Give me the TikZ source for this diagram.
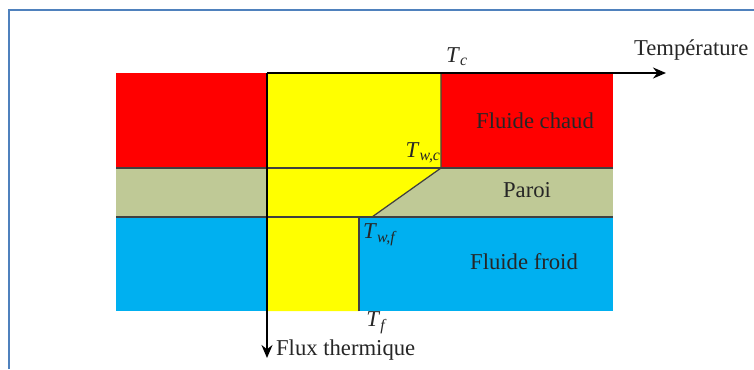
\documentclass[tikz,border=0pt]{standalone}
\usepackage{fontspec}
\setmainfont{Liberation Serif}
\usepackage{tikz}
\usetikzlibrary{arrows.meta,positioning,calc}
\definecolor{chaud}{HTML}{FF0000}
\definecolor{froid}{HTML}{00B0F0}
\definecolor{paroi}{HTML}{BFC996}
\definecolor{flux}{HTML}{FFFF00}
\definecolor{cadre}{HTML}{4F81BD}
\tikzset{
    lbl/.style={inner sep=1pt,font=\fontsize{12.9}{14}\selectfont,text=black!85},
    sep/.style={draw=black!75,line width=0.025cm},
    axe/.style={-{Stealth[length=2.6mm,width=2.2mm]},line width=0.035cm},
}
\newcommand{\temp}[1]{\textit{T}\textsubscript{\textit{#1}}}

\begin{document}
\begin{tikzpicture}[x=0.02cm,y=-0.02cm]
    \useasboundingbox (0,0) rectangle (754,369);
    % cadre
    \draw[cadre,line width=0.05cm] (9,369) -- (9,10) -- (754,10);

    % zones
    \fill[chaud] (116,73) rectangle (613,168);
    \fill[paroi] (116,168) rectangle (613,217);
    \fill[froid] (116,217) rectangle (613,311);
    \fill[flux] (267,73) -- (441,73) -- (441,168) -- (372,217) -- (359,217)
        -- (359,311) -- (267,311) -- cycle;

    \coordinate (O) at (267,73);
    \coordinate (Tx) at (666,73);
    \coordinate (Qy) at (267,358);
    \coordinate (wc) at (441,168);
    \coordinate (wf) at (372,217);

    \draw[sep] (116,168) -- (613,168);
    \draw[sep] (116,217) -- (613,217);
    \draw[sep] (441,73) -- (wc) -- (wf);
    \draw[sep] (359,217) -- (359,311);

    \draw[axe] (O) -- (Tx);
    \draw[axe] (O) -- (Qy);

    % textes
    \node[lbl] (tc) at (457,57) {\temp{c}};
    \node[lbl,anchor=south west] (temp) at (632,62) {Température};
    \node[lbl] (chaudtxt) at (535,121) {Fluide chaud};
    \node[lbl,anchor=south east] (twc) at (443,165) {\temp{w,c}};
    \node[lbl] (paroitxt) at (527,190) {Paroi};
    \node[lbl,anchor=north west] (twf) at (361,222) {\temp{w,f}};
    \node[lbl] (froidtxt) at (524,262) {Fluide froid};
    \node[lbl] (tf) at (377,323) {\temp{f}};
    \node[lbl,anchor=west] (fluxtxt) at (274,350) {Flux thermique};
\end{tikzpicture}
\end{document}
